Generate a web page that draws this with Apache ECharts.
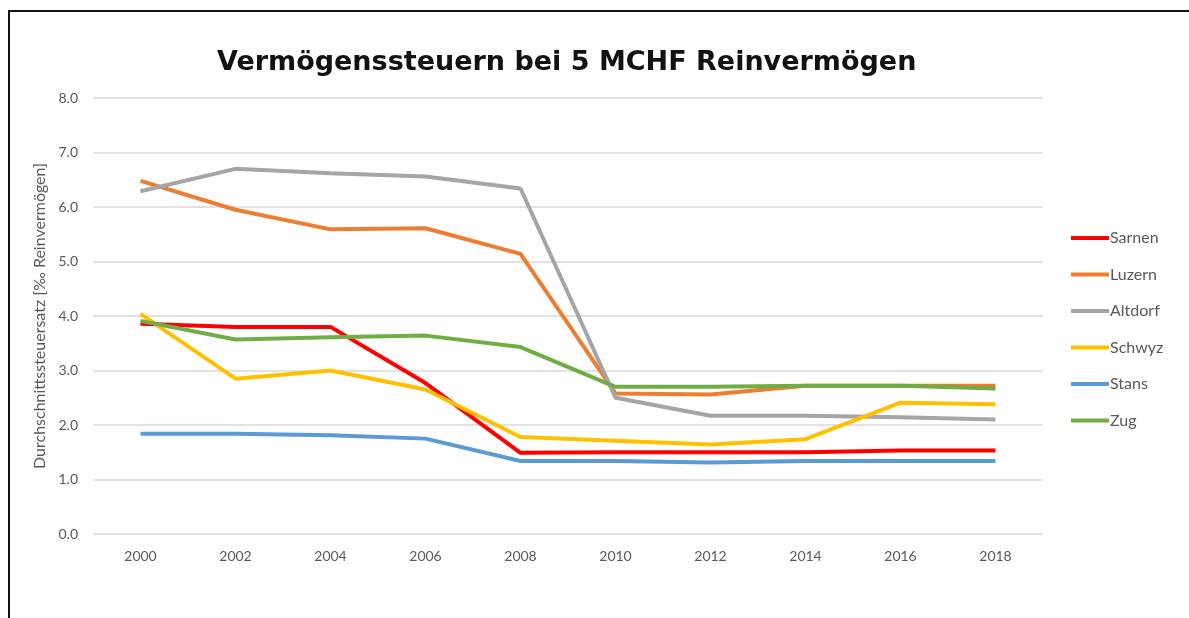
<!DOCTYPE html>
<html>
<head>
<meta charset="utf-8">
<script src="https://cdn.jsdelivr.net/npm/echarts@6/dist/echarts.min.js"></script>
<style>
  html, body { margin: 0; padding: 0; background: #fff; }
  #frame { position: absolute; left: 8px; top: 10px; width: 1181px; height: 608px;
           border-left: 2px solid #111; border-top: 2px solid #111; box-sizing: border-box; }
  #main { position: absolute; left: 0; top: 0; width: 1189px; height: 618px; }
</style>
</head>
<body>
<div id="frame"></div>
<div id="main"></div>
<script>
var years = ['2000', '2002', '2004', '2006', '2008', '2010', '2012', '2014', '2016', '2018']
var sarnen = [3.86, 3.80, 3.80, 2.77, 1.49, 1.50, 1.50, 1.50, 1.53, 1.53]
var luzern = [6.48, 5.95, 5.59, 5.61, 5.14, 2.58, 2.56, 2.72, 2.72, 2.72]
var altdorf = [6.29, 6.70, 6.62, 6.56, 6.34, 2.50, 2.17, 2.17, 2.14, 2.10]
var schwyz = [4.04, 2.85, 3.00, 2.65, 1.78, 1.71, 1.64, 1.74, 2.41, 2.38]
var stans = [1.84, 1.84, 1.81, 1.75, 1.34, 1.34, 1.31, 1.34, 1.34, 1.34]
var zug = [3.91, 3.57, 3.61, 3.64, 3.43, 2.70, 2.70, 2.72, 2.72, 2.67]
var names = ['Sarnen', 'Luzern', 'Altdorf', 'Schwyz', 'Stans', 'Zug']
var colors = ['#ff0000', '#ed7d31', '#a5a5a5', '#ffc000', '#5b9bd5', '#70ad47']
var values = [sarnen, luzern, altdorf, schwyz, stans, zug]

var myChart = echarts.init(document.getElementById('main'))
var series = names.map(function (n, i) {
  return {
    name: n,
    type: 'line',
    data: values[i],
    symbol: 'none',
    lineStyle: { width: 4, color: colors[i] },
    itemStyle: { color: colors[i] }
  }
})
var option = {
  animation: false,
  color: colors,
  title: {
    text: 'Vermögenssteuern bei 5 MCHF Reinvermögen',
    left: 212,
    top: 44,
    textStyle: { fontFamily: 'DejaVu Sans', fontWeight: 'bold', fontSize: 27, color: '#111' }
  },
  legend: {
    orient: 'vertical',
    left: 1066,
    top: 225,
    itemWidth: 38,
    itemHeight: 4,
    itemGap: 20.5,
    icon: 'rect',
    textStyle: { fontFamily: 'Lato', fontSize: 16, color: '#595959', padding: [0, 0, 0, -4] },
    data: names
  },
  grid: { left: 93, right: 146, top: 98, bottom: 84 },
  xAxis: {
    type: 'category',
    data: years,
    axisLine: { show: false },
    axisTick: { show: false },
    axisLabel: { fontFamily: 'Lato', fontSize: 14, color: '#595959', margin: 15 }
  },
  yAxis: {
    type: 'value',
    min: 0,
    max: 8,
    interval: 1,
    name: 'Durchschnittssteuersatz [‰ Reinvermögen]',
    nameLocation: 'middle',
    nameGap: 40,
    nameTextStyle: { fontFamily: 'Lato', fontSize: 16, color: '#595959' },
    axisLabel: {
      fontFamily: 'Lato', fontSize: 14, color: '#595959', margin: 15,
      formatter: function (v) { return v.toFixed(1) }
    },
    splitLine: { lineStyle: { color: '#d9d9d9', width: 1.5 } }
  },
  series: series
}
myChart.setOption(option)
</script>
</body>
</html>
